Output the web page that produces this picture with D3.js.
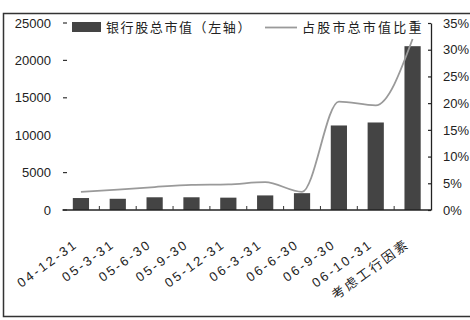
<!DOCTYPE html>
<html><head><meta charset="utf-8">
<script src="https://cdn.jsdelivr.net/npm/d3@7"></script>
<style>
html,body{margin:0;padding:0;background:#fff;}
svg{display:block;font-family:"Liberation Sans","DejaVu Sans","Noto Sans CJK SC",sans-serif;}
</style></head>
<body>
<svg id="chart" width="470" height="320"></svg>
<script>
// Period labels along the x axis
const categories = ["04-12-31","05-3-31","05-6-30","05-9-30","05-12-31","06-3-31","06-6-30","06-9-30","06-10-31","考虑工行因素"];
// Bank stocks' total market value (left axis)
const marketValue = [1600, 1500, 1700, 1700, 1650, 1950, 2250, 11300, 11700, 21900];
// Share of total stock market value, % (right axis)
const shareRatio = [3.4, 3.8, 4.3, 4.7, 4.8, 5.2, 3.4, 20.3, 19.6, 32.0];
const leftTicks = [0, 5000, 10000, 15000, 20000, 25000];
const rightTicks = [0, 5, 10, 15, 20, 25, 30, 35];
const legendLabels = ["银行股总市值（左轴）", "占股市总市值比重"];

const svg = d3.select("#chart");
const x0 = 62.5, x1 = 431, yBase = 210, yTop = 23;

// frame
svg.append("path").attr("d", "M470,13.5H3.5V316.5H470")
  .attr("fill", "none").attr("stroke", "#333").attr("stroke-width", 1.5);

const x = d3.scaleBand().domain(categories).range([x0, x1]).paddingInner(0.56).paddingOuter(0.28);
const yL = d3.scaleLinear().domain([0, 25000]).range([yBase, yTop]);
const yR = d3.scaleLinear().domain([0, 35]).range([yBase, yTop]);

// bars
svg.append("g").selectAll("rect").data(marketValue).join("rect")
  .attr("x", (d, i) => x(categories[i]))
  .attr("y", d => yL(d))
  .attr("width", x.bandwidth())
  .attr("height", d => yBase - yL(d))
  .attr("fill", "#444");

// ratio line
const line = d3.line()
  .x((d, i) => x(categories[i]) + x.bandwidth() / 2)
  .y(d => yR(d))
  .curve(d3.curveMonotoneX);
svg.append("path").datum(shareRatio).attr("d", line)
  .attr("fill", "none").attr("stroke", "#9a9a9a").attr("stroke-width", 1.8);

// left axis: labels and small dashes, no spine
const gl = svg.append("g").attr("font-size", 13).attr("fill", "#222");
leftTicks.forEach(t => {
  gl.append("text").attr("x", 51).attr("y", yL(t) + 4.5).attr("text-anchor", "end").text(t);
  if (t !== 10000) gl.append("line").attr("x1", 63).attr("x2", 67).attr("y1", yL(t)).attr("y2", yL(t))
    .attr("stroke", "#333").attr("stroke-width", 1.2);
});

// right axis
const rAxis = d3.axisRight(yR).tickValues(rightTicks).tickFormat(d => d + "%").tickSizeInner(-3).tickSizeOuter(0).tickPadding(12);
const gr = svg.append("g").attr("transform", `translate(${x1},0)`).call(rAxis);
gr.select(".domain").attr("stroke", "#222").attr("stroke-width", 1.3);
gr.selectAll(".tick line").attr("stroke", "#222").attr("stroke-width", 1.2);
gr.selectAll("text").attr("font-size", 13).attr("fill", "#222").attr("font-family", "Liberation Sans, sans-serif");

// baseline with inner ticks between categories
svg.append("line").attr("x1", x0).attr("x2", x1).attr("y1", yBase).attr("y2", yBase)
  .attr("stroke", "#222").attr("stroke-width", 1.3);
const step = x.step();
categories.slice(1).forEach(c => {
  const bx = x(c) - (step - x.bandwidth()) / 2;
  svg.append("line").attr("x1", bx).attr("x2", bx).attr("y1", yBase).attr("y2", yBase - 4)
    .attr("stroke", "#333").attr("stroke-width", 1);
});

// x labels rotated
svg.append("g").selectAll("text").data(categories).join("text")
  .attr("transform", d => `translate(${x(d) + x.bandwidth() / 2 - 2},${yBase + 36}) rotate(-36)`)
  .attr("text-anchor", "end").attr("font-size", 13).attr("letter-spacing", 2.4).attr("fill", "#222")
  .text(d => d);

// legend
const lg = svg.append("g").attr("font-size", 13).attr("letter-spacing", 1.6).attr("fill", "#222");
lg.append("rect").attr("x", 72).attr("y", 22).attr("width", 29).attr("height", 10).attr("fill", "#444");
lg.append("text").attr("x", 106).attr("y", 32).text(legendLabels[0]);
lg.append("line").attr("x1", 265).attr("x2", 297).attr("y1", 27.5).attr("y2", 27.5)
  .attr("stroke", "#9a9a9a").attr("stroke-width", 1.8);
lg.append("text").attr("x", 302).attr("y", 32).attr("letter-spacing", 2.2).text(legendLabels[1]);
</script>
</body></html>
